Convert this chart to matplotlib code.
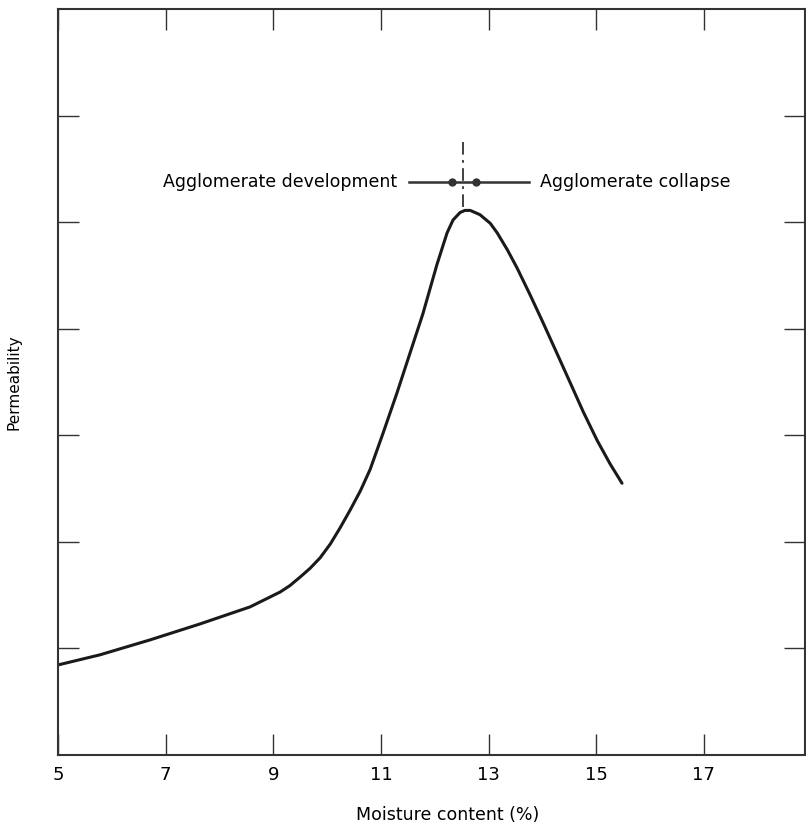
import matplotlib
matplotlib.use("Agg")
import matplotlib.pyplot as plt

# Data
moisture = [5.0, 5.78, 6.71, 7.64, 8.57, 9.13, 9.31, 9.50, 9.68, 9.87, 10.06, 10.24,
            10.43, 10.62, 10.80, 11.04, 11.30, 11.54, 11.78, 11.91, 12.04, 12.16,
            12.23, 12.34, 12.47, 12.56, 12.66, 12.84, 13.03, 13.16, 13.35, 13.53,
            13.77, 14.01, 14.27, 14.52, 14.76, 15.02, 15.26, 15.48]
permeability = [0.845, 0.94, 1.08, 1.23, 1.39, 1.53, 1.59, 1.67, 1.75, 1.85, 1.98, 2.13,
                2.30, 2.48, 2.68, 3.02, 3.40, 3.77, 4.14, 4.37, 4.60, 4.79,
                4.90, 5.02, 5.09, 5.11, 5.11, 5.07, 4.99, 4.90, 4.74, 4.57,
                4.32, 4.06, 3.77, 3.49, 3.22, 2.95, 2.73, 2.55]
x_ticks = [5, 7, 9, 11, 13, 15, 17]
y_ticks = [1, 2, 3, 4, 5, 6]
label_dev = "Agglomerate development"
label_col = "Agglomerate collapse"

plt.rcParams['font.family'] = ['DejaVu Sans']

fig = plt.figure(figsize=(8.06, 8.32), dpi=100)
ax = fig.add_axes([58/806, (832-755)/832, (805-58)/806, (755-9)/832])

ax.plot(moisture, permeability, color='#1a1a1a', lw=2.2, solid_joinstyle='round',
        solid_capstyle='round')

ax.set_xlim(5, 18.88)
ax.set_ylim(0, 7)
ax.set_xticks(x_ticks)
ax.set_xticklabels([str(t) for t in x_ticks], fontsize=13)
ax.set_yticks(y_ticks)
ax.set_yticklabels([])
ax.tick_params(direction='in', length=15, width=1.0, top=True, right=True,
               labeltop=False, labelright=False, pad=8, color='#333333')
for s in ax.spines.values():
    s.set_linewidth(1.5)
    s.set_color('#333333')

ax.set_xlabel("Moisture content (%)", fontsize=12.5, labelpad=14)
ax.xaxis.set_label_coords(0.522, -0.068)
ax.set_ylabel("Permeability", fontsize=11, labelpad=18)

# Peak annotation
ya = 5.38
ax.plot([11.52, 13.75], [ya, ya], color='#333333', lw=1.8)
ax.plot([12.32, 12.77], [ya, ya], 'o', color='#333333', ms=5)
ax.plot([12.53, 12.53], [5.14, 5.77], color='#333333', lw=1.3, ls=(0, (7, 3, 1.5, 3)))
ax.text(11.30, ya, label_dev, ha='right', va='center', fontsize=12.5)
ax.text(13.96, ya, label_col, ha='left', va='center', fontsize=12.5)

fig.savefig("out.png", dpi=100)
